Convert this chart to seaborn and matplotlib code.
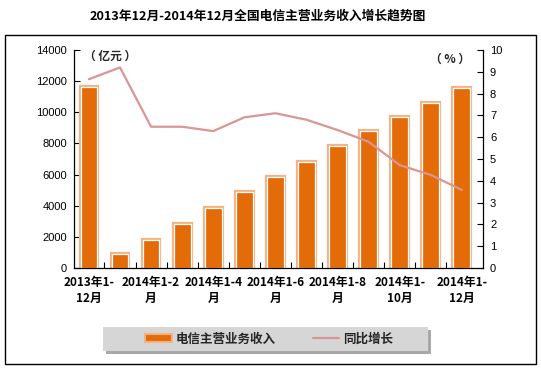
import matplotlib
matplotlib.use("Agg")
import matplotlib.pyplot as plt
import matplotlib.patheffects as pe
from matplotlib.patches import Rectangle, Patch
from matplotlib.lines import Line2D
import seaborn as sns
import pandas as pd
import numpy as np

periods = ["2013年1-12月", "2014年1月", "2014年1-2月", "2014年1-3月", "2014年1-4月",
           "2014年1-5月", "2014年1-6月", "2014年1-7月", "2014年1-8月", "2014年1-9月",
           "2014年1-10月", "2014年1-11月", "2014年1-12月"]
revenue = [11600, 900, 1800, 2830, 3830, 4860, 5860, 6830, 7840, 8820, 9720, 10620, 11540]
growth = [8.66, 9.2, 6.48, 6.48, 6.28, 6.91, 7.1, 6.8, 6.33, 5.79, 4.72, 4.27, 3.58]
tick_labels = ["2013年1-\n12月", "2014年1-2\n月", "2014年1-4\n月", "2014年1-6\n月",
               "2014年1-8\n月", "2014年1-\n10月", "2014年1-\n12月"]
left_ticks = [0, 2000, 4000, 6000, 8000, 10000, 12000, 14000]
right_ticks = list(range(0, 11))

df = pd.DataFrame({"period": periods, "revenue": revenue, "growth": growth,
                   "pos": np.arange(len(periods))})

sns.set_theme(style="white")
plt.rcParams['font.family'] = ['Noto Sans CJK SC', 'DejaVu Sans']

W, H = 541, 369
fig = plt.figure(figsize=(W / 100, H / 100), dpi=100)
fig.patch.set_facecolor("white")

# outer border
fig.add_artist(Rectangle((5 / W, 1 - 364 / H), 531 / W, 329 / H, transform=fig.transFigure,
                         fill=False, edgecolor="black", linewidth=1.0))

fig.text(258 / W, 1 - 16 / H, "2013年12月-2014年12月全国电信主营业务收入增长趋势图",
         ha="center", va="center", fontsize=9.2, fontweight="bold", color="black")

ax = fig.add_axes([74 / W, 1 - 268 / H, (483 - 74) / W, (268 - 50) / H])
ax.set_facecolor("white")
sns.barplot(data=df, x="period", y="revenue", color="#E36C09", width=0.54,
            edgecolor="white", linewidth=0.9, saturation=1, ax=ax)
for p in ax.patches:
    p.set_path_effects([pe.Stroke(linewidth=3.0, foreground="#F4B183"), pe.Normal()])

ax.set_xlim(-0.48, 12.68)
ax.set_ylim(0, 14000)
ax.set_yticks(left_ticks)
ax.set_yticklabels([str(t) for t in left_ticks], fontfamily="Liberation Sans", fontsize=8)
ax.set_xticks(np.arange(0, 13, 2))
ax.set_xticklabels(tick_labels, fontsize=8.5, fontweight="bold", linespacing=1.3)
ax.set_xticks(np.arange(0.5, 12.5, 1), minor=True)
ax.tick_params(axis="x", which="major", length=0, pad=6, colors="black")
ax.tick_params(axis="x", which="minor", direction="in", length=4, width=0.8, color="black",
               bottom=True)
ax.tick_params(axis="y", direction="in", length=4, width=0.8, color="black", left=True,
               pad=5, labelcolor="black")
ax.set_xlabel("")
ax.set_ylabel("")
for s in ["top", "right"]:
    ax.spines[s].set_visible(False)
for s in ["left", "bottom"]:
    ax.spines[s].set_color("black")
    ax.spines[s].set_linewidth(0.9)

ax2 = ax.twinx()
sns.lineplot(data=df, x="pos", y="growth", color="#D99694", linewidth=1.6, ax=ax2)
ax2.set_ylim(0, 10)
ax2.set_yticks(right_ticks)
ax2.set_yticklabels([str(t) for t in right_ticks], fontfamily="Liberation Sans", fontsize=8)
ax2.tick_params(axis="y", direction="in", length=4, width=0.8, color="black", right=True,
                pad=5, labelcolor="black")
ax2.set_ylabel("")
ax2.set_xlabel("")
for s in ["top", "left", "bottom"]:
    ax2.spines[s].set_visible(False)
ax2.spines["right"].set_color("black")
ax2.spines["right"].set_linewidth(0.9)
ax2.set_xlim(-0.48, 12.68)

fig.text(84 / W, 1 - 56 / H, "（ 亿元 ）", ha="left", va="center", fontsize=8.5, fontweight="bold")
fig.text(450 / W, 1 - 59 / H, "（ % ）", ha="center", va="center", fontsize=8.5, fontweight="bold")

# legend box with shadow
fig.add_artist(Rectangle((106 / W, 1 - 354 / H), 325 / W, 24 / H, transform=fig.transFigure,
                         facecolor="#A8A8A8", edgecolor="none"))
fig.add_artist(Rectangle((103 / W, 1 - 351 / H), 325 / W, 24 / H, transform=fig.transFigure,
                         facecolor="#D6D6D6", edgecolor="none"))

bar_handle = Patch(facecolor="#E36C09", edgecolor="#F4B183", linewidth=1.5)
line_handle = Line2D([], [], color="#D99694", linewidth=1.6)
leg = fig.legend([bar_handle, line_handle], ["电信主营业务收入", "同比增长"],
                 loc="center", bbox_to_anchor=(269 / W, 1 - 339 / H), ncol=2,
                 frameon=False, columnspacing=3.0,
                 handlelength=2.1, handleheight=0.55, handletextpad=0.3,
                 prop={"family": ["Noto Sans CJK SC", "DejaVu Sans"], "weight": "bold", "size": 9})

fig.savefig("out.png", dpi=100, facecolor="white")
